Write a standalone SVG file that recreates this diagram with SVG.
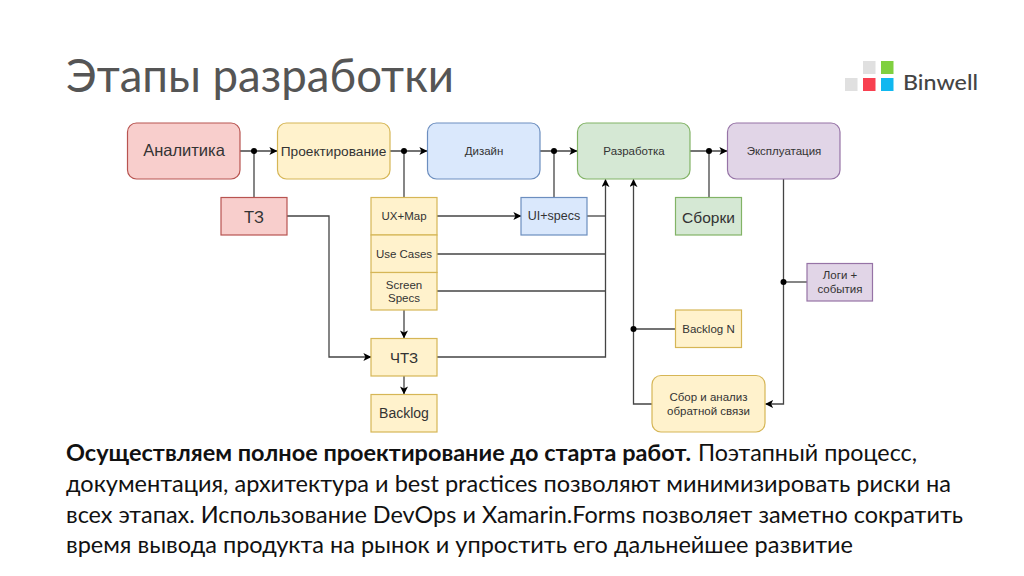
<svg xmlns="http://www.w3.org/2000/svg" width="1024" height="576" viewBox="0 0 1024 576">
<defs>
<marker id="arr" viewBox="0 0 10 10" refX="9.5" refY="5" markerWidth="8" markerHeight="8" markerUnits="userSpaceOnUse" orient="auto"><path d="M0 0L10 5L0 10L2.5 5Z" fill="#000"/></marker>
</defs>
<style>
.lb{font-family:"Liberation Sans",Arial,sans-serif;fill:#333;text-anchor:middle}
.s{font-size:11.500px}.m{font-size:14px}.l{font-size:16.500px}
.red{fill:#f8cecc;stroke:#b85450}.yel{fill:#fff2cc;stroke:#d6b656}.blu{fill:#dae8fc;stroke:#6c8ebf}.grn{fill:#d5e8d4;stroke:#82b366}.pur{fill:#e1d5e7;stroke:#9673a6}
rect{stroke-width:1.200}
#connectors path{fill:none;stroke:#444;stroke-width:1.300}
#connectors circle{fill:#000}
.body{font-family:Lato,"Open Sans","Noto Sans",sans-serif;font-size:23px;fill:#111}
</style>
<rect width="1024" height="576" fill="#fff" style="stroke:none"/>
<text id="title" x="66" y="92" font-family="Lato,'Open Sans','Noto Sans',sans-serif" font-size="46" fill="#555" textLength="388" lengthAdjust="spacingAndGlyphs">Этапы разработки</text>
<g id="logo">
<rect x="845" y="78" width="12.500" height="13" fill="#e0e0e0" style="stroke:none"/>
<rect x="863" y="61" width="12.500" height="13" fill="#e0e0e0" style="stroke:none"/>
<rect x="863" y="78" width="12.500" height="13" fill="#f84050" style="stroke:none"/>
<rect x="881" y="61" width="12.500" height="13" fill="#80d040" style="stroke:none"/>
<rect x="881" y="78" width="12.500" height="13" fill="#10b8f0" style="stroke:none"/>
<text x="903" y="90" font-family="Lato,'Open Sans','Noto Sans',sans-serif" font-size="22" font-weight="500" fill="#444" textLength="75" lengthAdjust="spacingAndGlyphs">Binwell</text>
</g>
<g id="connectors">
<path d="M240 151H277" marker-end="url(#arr)"/>
<path d="M390 151H427" marker-end="url(#arr)"/>
<path d="M540 151H577" marker-end="url(#arr)"/>
<path d="M690 151H727" marker-end="url(#arr)"/>
<path d="M254 197V151"/>
<path d="M404 197V151"/>
<path d="M554 197V151"/>
<path d="M709 197V151"/>
<path d="M287 216H329V357H371" marker-end="url(#arr)"/>
<path d="M437 216H521" marker-end="url(#arr)"/>
<path d="M587 216H605.500"/>
<path d="M437 254H605.500"/>
<path d="M437 291H605.500"/>
<path d="M437 357H605.500V179.500" marker-end="url(#arr)"/>
<path d="M404 310V338" marker-end="url(#arr)"/>
<path d="M404 376V394" marker-end="url(#arr)"/>
<path d="M652 404H633.500V179.500" marker-end="url(#arr)"/>
<path d="M675 329H633.500"/>
<path d="M783.500 179V404H765.500" marker-end="url(#arr)"/>
<path d="M807 282H783.500"/>
<circle cx="254" cy="151" r="3"/><circle cx="404" cy="151" r="3"/><circle cx="554" cy="151" r="3"/><circle cx="709" cy="151" r="3"/>
<circle cx="633.500" cy="329" r="3"/><circle cx="783.500" cy="282" r="3"/>
</g>
<g id="n-analytics"><rect class="red" x="127.500" y="123" width="112.500" height="56" rx="9"/><text class="lb l" x="184" y="156">Аналитика</text></g>
<g id="n-design-proj"><rect class="yel" x="277.500" y="123" width="112.500" height="56" rx="9"/><text class="lb" font-size="13.700" x="333.500" y="156">Проектирование</text></g>
<g id="n-design"><rect class="blu" x="427.500" y="123" width="112.500" height="56" rx="9"/><text class="lb s" x="484" y="155">Дизайн</text></g>
<g id="n-dev"><rect class="grn" x="577.500" y="123" width="112.500" height="56" rx="9"/><text class="lb s" x="634" y="155">Разработка</text></g>
<g id="n-ops"><rect class="pur" x="727.500" y="123" width="112.500" height="56" rx="9"/><text class="lb s" x="784" y="155">Эксплуатация</text></g>
<g id="n-tz"><rect class="red" x="221" y="197.500" width="66" height="37.500"/><text class="lb l" x="254" y="223">ТЗ</text></g>
<g id="n-ux"><rect class="yel" x="371" y="197.500" width="66" height="37.500"/><text class="lb s" x="404" y="220">UX+Map</text></g>
<g id="n-uc"><rect class="yel" x="371" y="235" width="66" height="37.500"/><text class="lb s" x="404" y="258">Use Cases</text></g>
<g id="n-ss"><rect class="yel" x="371" y="272.500" width="66" height="37.500"/><text class="lb s" x="404" y="289">Screen</text><text class="lb s" x="404" y="302">Specs</text></g>
<g id="n-ui"><rect class="blu" x="521" y="197.500" width="66" height="37.500"/><text class="lb" font-size="12.500" x="554" y="220">UI+specs</text></g>
<g id="n-builds"><rect class="grn" x="675.500" y="197.500" width="66" height="37.500"/><text class="lb" font-size="15.500" x="708.500" y="223">Сборки</text></g>
<g id="n-logs"><rect class="pur" x="807" y="263.500" width="65.500" height="37.500"/><text class="lb s" x="840" y="279">Логи +</text><text class="lb s" x="840" y="293">события</text></g>
<g id="n-cht"><rect class="yel" x="371" y="338.500" width="66" height="37.500"/><text class="lb" font-size="15" x="404" y="363">ЧТЗ</text></g>
<g id="n-backlog"><rect class="yel" x="371" y="394.500" width="66" height="37.500"/><text class="lb m" x="404" y="418">Backlog</text></g>
<g id="n-backlogn"><rect class="yel" x="675.500" y="310" width="66" height="37.500"/><text class="lb s" x="708.500" y="333">Backlog N</text></g>
<g id="n-feedback"><rect class="yel" x="652" y="375.500" width="113" height="56.500" rx="9"/><text class="lb s" x="708.500" y="401">Сбор и анализ</text><text class="lb s" x="708.500" y="415">обратной связи</text></g>
<g id="body-text">
<text class="body" x="66" y="460.500" font-weight="700" textLength="625" lengthAdjust="spacingAndGlyphs">Осуществляем полное проектирование до старта работ.</text>
<text class="body" x="698" y="460.500" textLength="219" lengthAdjust="spacingAndGlyphs">Поэтапный процесс,</text>
<text class="body" x="66" y="491.500" textLength="885" lengthAdjust="spacingAndGlyphs">документация, архитектура и best practices позволяют минимизировать риски на</text>
<text class="body" x="66" y="522.500" textLength="897" lengthAdjust="spacingAndGlyphs">всех этапах. Использование DevOps и Xamarin.Forms позволяет заметно сократить</text>
<text class="body" x="66" y="553" textLength="787" lengthAdjust="spacingAndGlyphs">время вывода продукта на рынок и упростить его дальнейшее развитие</text>
</g>
</svg>
